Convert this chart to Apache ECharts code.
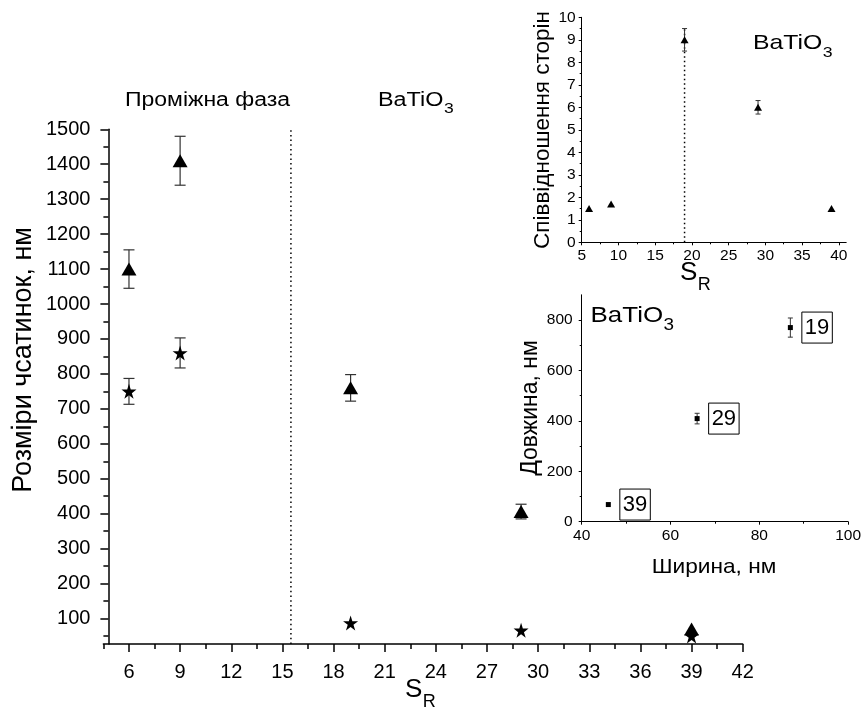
<!DOCTYPE html>
<html>
<head>
<meta charset="utf-8">
<script src="https://cdn.jsdelivr.net/npm/echarts@6/dist/echarts.min.js"></script>
<style>
  html, body { margin: 0; padding: 0; background: #fff; }
  #chart { width: 864px; height: 715px; }
</style>
</head>
<body>
<div id="chart"></div>
<script>
// ---- Particle size versus S_R (main panel) ----
const srValues = [6, 9, 19, 29, 39];
const triangleSize = [1100, 1410, 760, 406, 70];
const triangleErr = [55, 70, 38, 21, 0];
const starSize = [750, 860, 87, 66, 50];
const starErr = [37, 43, 0, 0, 0];
const phaseBoundary = 15.5;

// ---- Aspect ratio versus S_R (upper inset) ----
const aspectRatio = [1.5, 1.7, 9.0, 6.0, 1.5];
const aspectErr = [0, 0, 0.5, 0.3, 0];
const ratioGuideSr = 19;

// ---- Length versus width (lower inset) ----
const widthNm = [87, 66, 46];
const lengthNm = [770, 409, 68];
const lengthErr = [38, 21, 0];
const pointTags = ['19', '29', '39'];

// ---- Tick positions ----
const mainXTicks = [6, 9, 12, 15, 18, 21, 24, 27, 30, 33, 36, 39, 42];
const mainXMinor = [4.5, 7.5, 10.5, 13.5, 16.5, 19.5, 22.5, 25.5, 28.5, 31.5, 34.5, 37.5, 40.5];
const mainYTicks = [100, 200, 300, 400, 500, 600, 700, 800, 900, 1000, 1100, 1200, 1300, 1400, 1500];
const mainYMinor = [50, 150, 250, 350, 450, 550, 650, 750, 850, 950, 1050, 1150, 1250, 1350, 1450];
const ratioXTicks = [5, 10, 15, 20, 25, 30, 35, 40];
const ratioXMinor = [7.5, 12.5, 17.5, 22.5, 27.5, 32.5, 37.5];
const ratioYTicks = [0, 1, 2, 3, 4, 5, 6, 7, 8, 9, 10];
const ratioYMinor = [0.5, 1.5, 2.5, 3.5, 4.5, 5.5, 6.5, 7.5, 8.5, 9.5];
const lwXTicks = [40, 60, 80, 100];
const lwXMinor = [50, 70, 90];
const lwYTicks = [0, 200, 400, 600, 800];
const lwYMinor = [100, 300, 500, 700];

const FONT = 'Liberation Sans, Arial, sans-serif';
const INK = '#000';
const BAR = '#333';
const STAR = 'path://M50,0 L61.2,34.5 L97.6,34.5 L68.2,55.9 L79.4,90.5 L50,69.1 L20.6,90.5 L31.8,55.9 L2.4,34.5 L38.8,34.5 Z';

// A value axis drawn as two layers: major ticks with labels, minor ticks alone.
function axisLayers(gridIndex, min, max, major, minor, o) {
  const base = {
    type: 'value', gridIndex, min, max,
    position: o.position, offset: o.offset || 0,
    splitLine: { show: false }
  };
  return [
    Object.assign({}, base, {
      axisLine: { show: true, onZero: false, lineStyle: { color: INK, width: o.lineWidth } },
      axisTick: { show: true, inside: false, customValues: major, length: o.major, lineStyle: { color: INK, width: o.tickWidth } },
      axisLabel: { show: true, customValues: major, color: INK, fontFamily: FONT, fontSize: o.fontSize, margin: o.margin, formatter: v => String(v) }
    }),
    Object.assign({}, base, {
      axisLine: { show: false, onZero: false },
      axisTick: { show: true, inside: false, customValues: minor, length: o.minor, lineStyle: { color: INK, width: o.tickWidth } },
      axisLabel: { show: false }
    })
  ];
}

function errorBarSeries(xIdx, yIdx, xs, ys, errs, cap, width) {
  const data = [];
  xs.forEach((x, i) => { if (errs[i] > 0) data.push([x, ys[i] - errs[i], ys[i] + errs[i]]); });
  return {
    type: 'custom', xAxisIndex: xIdx, yAxisIndex: yIdx, z: 1, silent: true,
    data,
    renderItem(params, api) {
      const lo = api.coord([api.value(0), api.value(1)]);
      const hi = api.coord([api.value(0), api.value(2)]);
      const st = { stroke: BAR, lineWidth: width };
      return {
        type: 'group',
        children: [
          { type: 'line', shape: { x1: lo[0], y1: lo[1], x2: hi[0], y2: hi[1] }, style: st },
          { type: 'line', shape: { x1: lo[0] - cap / 2, y1: lo[1], x2: lo[0] + cap / 2, y2: lo[1] }, style: st },
          { type: 'line', shape: { x1: hi[0] - cap / 2, y1: hi[1], x2: hi[0] + cap / 2, y2: hi[1] }, style: st }
        ]
      };
    }
  };
}

// Free text; sx widens glyphs along the reading direction
function txt(x, y, text, size, o) {
  o = o || {};
  return {
    type: 'text', x, y, z: 10, silent: true,
    rotation: o.rotation || 0,
    scaleX: o.sx || 1,
    style: { text, font: size + 'px ' + FONT, fill: INK, align: o.align || 'left', verticalAlign: 'middle' }
  };
}
// Text with a subscript tail, e.g. BaTiO3 or S_R
function subscripted(x, y, mainText, subText, size, subSize, sx) {
  sx = sx || 1;
  const probe = document.createElement('canvas').getContext('2d');
  probe.font = size + 'px ' + FONT;
  const w = probe.measureText(mainText).width * sx;
  return [
    txt(x, y, mainText, size, { sx }),
    txt(x + w + 0.5, y + size * 0.45, subText, subSize, { sx })
  ];
}

const mainAxX = axisLayers(0, 4.5, 42, mainXTicks, mainXMinor, { position: 'bottom', lineWidth: 1.5, tickWidth: 1.5, major: 8, minor: 5, fontSize: 20, margin: 18 });
const mainAxY = axisLayers(0, 27, 1500, mainYTicks, mainYMinor, { position: 'left', offset: -5, lineWidth: 1.5, tickWidth: 1.5, major: 8, minor: 5, fontSize: 20, margin: 18 });
const ratAxX = axisLayers(1, 5, 41, ratioXTicks, ratioXMinor, { position: 'bottom', lineWidth: 1, tickWidth: 1, major: 3, minor: 2, fontSize: 15.5, margin: 5 });
const ratAxY = axisLayers(1, 0, 10, ratioYTicks, ratioYMinor, { position: 'left', lineWidth: 1, tickWidth: 1, major: 3, minor: 2, fontSize: 15.5, margin: 6 });
const lwAxX = axisLayers(2, 40, 100, lwXTicks, lwXMinor, { position: 'bottom', lineWidth: 1, tickWidth: 1, major: 3, minor: 2, fontSize: 15.5, margin: 6 });
const lwAxY = axisLayers(2, 0, 900, lwYTicks, lwYMinor, { position: 'left', lineWidth: 1, tickWidth: 1, major: 3, minor: 2, fontSize: 15.5, margin: 9 });

const chart = echarts.init(document.getElementById('chart'), null, { renderer: 'canvas' });
chart.setOption({
  animation: false,
  backgroundColor: '#fff',
  grid: [
    { left: 103.4, top: 129.3, width: 639.3, height: 514.7 },
    { left: 581.7, top: 17.3, width: 264.5, height: 225 },
    { left: 581.7, top: 294.8, width: 266.6, height: 226.9 }
  ],
  xAxis: [...mainAxX, ...ratAxX, ...lwAxX],   // 0,1 main | 2,3 upper inset | 4,5 lower inset
  yAxis: [...mainAxY, ...ratAxY, ...lwAxY],
  series: [
    // main panel
    {
      type: 'line', xAxisIndex: 0, yAxisIndex: 0, symbol: 'none', silent: true, z: 0,
      data: [[phaseBoundary, 27], [phaseBoundary, 1500]],
      lineStyle: { color: INK, width: 1.5, type: [1.5, 3.2] }
    },
    errorBarSeries(0, 0, srValues, triangleSize, triangleErr, 11, 1.2),
    errorBarSeries(0, 0, srValues, starSize, starErr, 11, 1.2),
    {
      type: 'scatter', xAxisIndex: 0, yAxisIndex: 0, symbol: STAR, symbolSize: 15, z: 3,
      itemStyle: { color: INK, opacity: 1 },
      data: srValues.map((x, i) => [x, starSize[i]])
    },
    {
      type: 'scatter', xAxisIndex: 0, yAxisIndex: 0, symbol: 'triangle', symbolSize: [15, 13], z: 3,
      itemStyle: { color: INK, opacity: 1 },
      data: srValues.map((x, i) => [x, triangleSize[i]])
    },
    // upper inset
    {
      type: 'line', xAxisIndex: 2, yAxisIndex: 2, symbol: 'none', silent: true, z: 0,
      data: [[ratioGuideSr, 0], [ratioGuideSr, 9.5]],
      lineStyle: { color: INK, width: 1.5, type: [1.5, 3] }
    },
    errorBarSeries(2, 2, srValues, aspectRatio, aspectErr, 5, 1),
    {
      type: 'scatter', xAxisIndex: 2, yAxisIndex: 2, symbol: 'triangle', symbolSize: [8, 7], z: 3,
      itemStyle: { color: INK, opacity: 1 },
      data: srValues.map((x, i) => [x, aspectRatio[i]])
    },
    // lower inset
    errorBarSeries(4, 4, widthNm, lengthNm, lengthErr, 5, 1),
    {
      type: 'scatter', xAxisIndex: 4, yAxisIndex: 4, symbol: 'rect', symbolSize: 5, z: 3,
      itemStyle: { color: INK, opacity: 1 },
      data: widthNm.map((w, i) => [w, lengthNm[i]]),
      label: {
        show: true, position: 'right', distance: 9,
        formatter: p => pointTags[p.dataIndex],
        color: INK, fontFamily: FONT, fontSize: 22, lineHeight: 25,
        borderColor: INK, borderWidth: 1, padding: [3, 3, 3, 3]
      }
    }
  ],
  graphic: [
    // main panel texts
    txt(24, 360, 'Розміри чсатинок, нм', 27, { align: 'center', rotation: Math.PI / 2 }),
    txt(125, 100, 'Проміжна фаза', 20, { sx: 1.15 }),
    ...subscripted(378, 100, 'BaTiO', '3', 20, 15, 1.17),
    ...subscripted(405, 690, 'S', 'R', 26, 18),
    // upper inset texts
    txt(543, 130, 'Співвідношення сторін', 22.5, { align: 'center', rotation: Math.PI / 2 }),
    ...subscripted(753, 43, 'BaTiO', '3', 21, 15, 1.18),
    ...subscripted(680, 273, 'S', 'R', 26, 18),
    // lower inset texts
    ...subscripted(590.5, 315.5, 'BaTiO', '3', 22, 16, 1.18),
    txt(531, 408, 'Довжина, нм', 23, { align: 'center', rotation: Math.PI / 2 }),
    txt(714, 567, 'Ширина, нм', 21, { align: 'center', sx: 1.08 })
  ]
});
</script>
</body>
</html>
